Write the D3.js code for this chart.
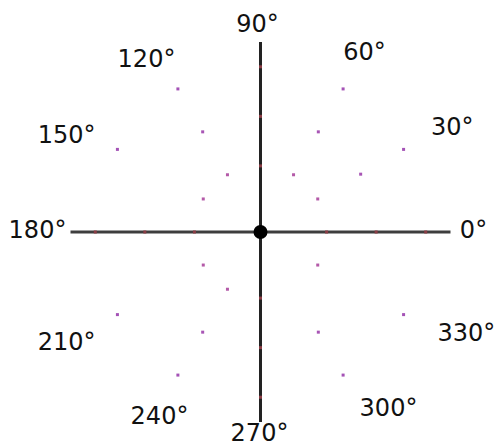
<!DOCTYPE html>
<html>
<head>
<meta charset="utf-8">
<script src="https://cdn.jsdelivr.net/npm/d3@7"></script>
<style>
  html, body { margin: 0; padding: 0; background: #fff; }
  svg { display: block; }
</style>
</head>
<body>
<svg id="chart" width="497" height="446"></svg>
<script>
// ---- data ----
const angleTicks = [0, 30, 60, 90, 120, 150, 180, 210, 240, 270, 300, 330];
const tickLabels = ["0°", "30°", "60°", "90°", "120°", "150°", "180°", "210°", "240°", "270°", "300°", "330°"];
const ringNames = ["inner", "middle", "outer"];
const ringRadii = [4, 7, 10];
const innerAngles = [0, 30, 60, 90, 120, 150, 180, 210, 240, 270, 330];
const middleAngles = [0, 30, 60, 90, 120, 180, 240, 270, 300];
const outerAngles = [0, 30, 60, 90, 120, 150, 180, 210, 240, 270, 300, 330];
const radialMax = 11.5;

// ---- layout / style ----
const cx = 260.5, cy = 232;
const R = 190;
const labelRx = 218, labelRy = 206, labelDx = -5, labelDy = -2;
// per-label fine placement tweaks (style only), keyed by angle
const labelNudge = { 30: [8, 0], 120: [0, 7], 150: [0, 8], 210: [0, 9], 240: [13, 8], 300: [24, 0], 330: [22, 0], 90: [2, 0], 270: [4, -3] };

const svg = d3.select("#chart");
const g = svg.append("g").attr("transform", `translate(${cx},${cy})`);

const r = d3.scaleLinear().domain([0, radialMax]).range([0, R]);
const theta = d3.scaleLinear().domain([0, 360]).range([0, 2 * Math.PI]);
const px = (a, v) => r(v) * Math.cos(theta(a));
const py = (a, v) => -r(v) * Math.sin(theta(a));

// axes lines
g.append("line").attr("x1", px(180, radialMax)).attr("y1", 0).attr("x2", px(0, radialMax)).attr("y2", 0)
  .attr("stroke", "#3e3e3e").attr("stroke-width", 3);
g.append("line").attr("x1", 0).attr("y1", py(90, radialMax)).attr("x2", 0).attr("y2", py(270, radialMax))
  .attr("stroke", "#222").attr("stroke-width", 3);

// points
const pts = [];
[innerAngles, middleAngles, outerAngles].forEach((arr, i) => {
  arr.forEach(a => pts.push({ angle: a, value: ringRadii[i], ring: ringNames[i] }));
});
const ringColor = d3.scaleOrdinal().domain(ringNames).range(["#b45aa8", "#a855b5", "#a452b6"]);
g.selectAll("rect.pt").data(pts).enter().append("rect")
  .attr("class", "pt")
  .attr("x", d => px(d.angle, d.value) - 1.5)
  .attr("y", d => py(d.angle, d.value) - 1.5)
  .attr("width", 3).attr("height", 3)
  .attr("fill", d => d.angle % 90 === 0 ? "#8a3c44" : ringColor(d.ring));

// center marker
g.append("circle").attr("r", 7).attr("fill", "#000");

// angular labels
g.selectAll("text.lab").data(angleTicks).enter().append("text")
  .attr("class", "lab")
  .attr("x", a => labelDx + labelRx * Math.cos(theta(a)) + (labelNudge[a] ? labelNudge[a][0] : 0))
  .attr("y", a => labelDy - labelRy * Math.sin(theta(a)) + (labelNudge[a] ? labelNudge[a][1] : 0))
  .attr("text-anchor", "middle")
  .attr("dominant-baseline", "central")
  .attr("font-family", "DejaVu Sans, sans-serif")
  .attr("font-size", 24)
  .attr("fill", "#111")
  .text((a, i) => tickLabels[i]);
</script>
</body>
</html>
